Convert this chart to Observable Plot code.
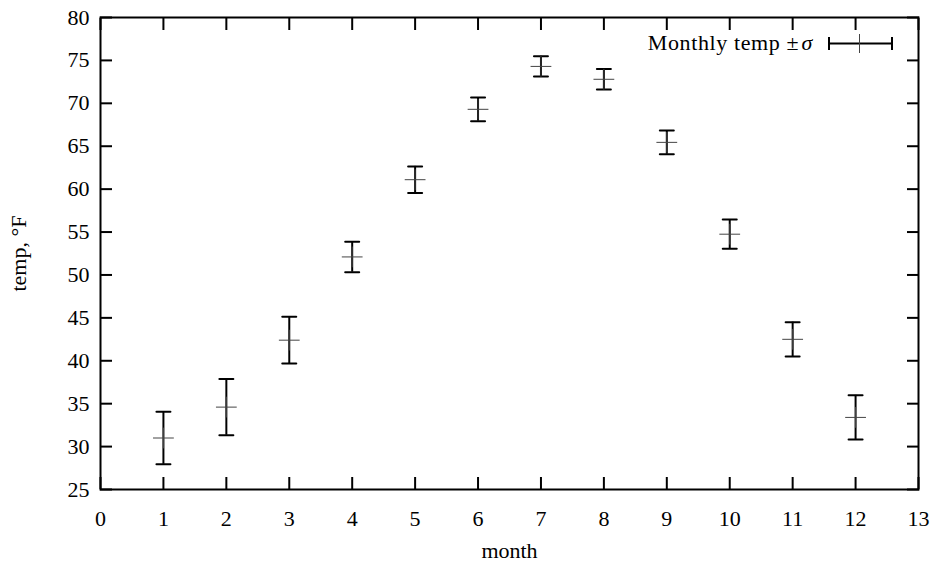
<!DOCTYPE html>
<html>
<head>
<meta charset="utf-8">
<script src="https://cdn.jsdelivr.net/npm/d3@7"></script>
<script src="https://cdn.jsdelivr.net/npm/@observablehq/plot@0.6"></script>
<style>
  html, body { margin: 0; padding: 0; background: #fff; }
  #wrap { position: relative; width: 933px; height: 565px; }
  #legend { position: absolute; right: 120px; top: 29px; font: 22px "Liberation Serif", serif; color: #000; white-space: nowrap; line-height: 28px; letter-spacing: 0.6px; }
  #legend-sample { position: absolute; left: 826px; top: 31px; }
</style>
</head>
<body>
<div id="wrap">
  <div id="chart"></div>
  <div id="legend">Monthly temp ±&#8202;<i>σ</i></div>
  <svg id="legend-sample" width="70" height="26">
    <line x1="3" y1="12.5" x2="66" y2="12.5" stroke="#000" stroke-width="2"/>
    <line x1="3" y1="6" x2="3" y2="19" stroke="#000" stroke-width="2"/>
    <line x1="66" y1="6" x2="66" y2="19" stroke="#000" stroke-width="2"/>
    <line x1="33.5" y1="3" x2="33.5" y2="22" stroke="#444" stroke-width="1"/>
  </svg>
</div>
<script>
const months = [1, 2, 3, 4, 5, 6, 7, 8, 9, 10, 11, 12];
const meanTemp = [31.0, 34.6, 42.4, 52.1, 61.1, 69.3, 74.3, 72.8, 65.45, 54.75, 42.5, 33.4];
const sigma = [3.07, 3.28, 2.72, 1.78, 1.55, 1.38, 1.18, 1.19, 1.38, 1.71, 2.0, 2.57];
const xTicks = [0, 1, 2, 3, 4, 5, 6, 7, 8, 9, 10, 11, 12, 13];
const yTicks = [25, 30, 35, 40, 45, 50, 55, 60, 65, 70, 75, 80];

const data = months.map((m, i) => ({month: m, mean: meanTemp[i], lo: meanTemp[i] - sigma[i], hi: meanTemp[i] + sigma[i]}));

const lineShape = {draw(context, l) { context.moveTo(0, 0); context.lineTo(0, -l); }};

const chart = Plot.plot({
  width: 933,
  height: 565,
  marginLeft: 100,
  marginRight: 15,
  marginTop: 17,
  marginBottom: 76,
  style: {fontFamily: "'Liberation Serif', serif", fontSize: "22px", color: "#000", background: "#fff"},
  x: {domain: [0, 13]},
  y: {domain: [25, 80]},
  marks: [
    Plot.axisX(xTicks, {anchor: "bottom", tickSize: -12, tickPadding: 33, strokeWidth: 2, label: "month", labelArrow: "none", labelAnchor: "center", labelOffset: 68, fontSize: 22}),
    Plot.axisX(xTicks, {anchor: "top", tickSize: -12, strokeWidth: 2, tickFormat: () => "", label: null}),
    Plot.axisY(yTicks, {anchor: "left", tickSize: -12, tickPadding: 23, strokeWidth: 2, label: "temp, °F", labelArrow: "none", labelAnchor: "center", labelOffset: 90, fontSize: 22}),
    Plot.axisY(yTicks, {anchor: "right", tickSize: -12, strokeWidth: 2, tickFormat: () => "", label: null}),
    Plot.frame({stroke: "#000", strokeWidth: 2}),
    Plot.ruleX(data, {x: "month", y1: "lo", y2: "hi", stroke: "#000", strokeWidth: 2}),
    Plot.vector(data, {x: "month", y: "lo", length: 14, rotate: 90, anchor: "middle", shape: lineShape, stroke: "#000", strokeWidth: 2}),
    Plot.vector(data, {x: "month", y: "hi", length: 14, rotate: 90, anchor: "middle", shape: lineShape, stroke: "#000", strokeWidth: 2}),
    Plot.vector(data, {x: "month", y: "mean", length: 20, rotate: 90, anchor: "middle", shape: lineShape, stroke: "#444", strokeWidth: 1}),
    Plot.vector(data, {x: "month", y: "mean", length: 20, rotate: 0, anchor: "middle", shape: lineShape, stroke: "#444", strokeWidth: 1})
  ]
});
document.getElementById("chart").appendChild(chart);
</script>
</body>
</html>
